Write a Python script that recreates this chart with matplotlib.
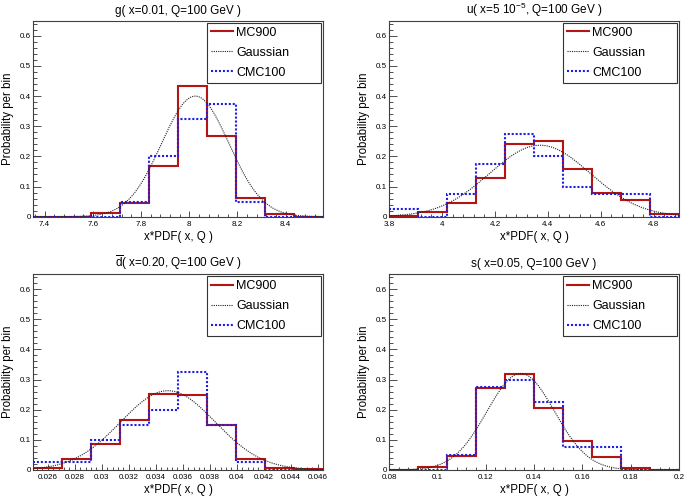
import numpy as np
import matplotlib
matplotlib.use('Agg')
import matplotlib.pyplot as plt
from matplotlib.ticker import MultipleLocator, AutoMinorLocator, FormatStrFormatter

plt.rcParams['font.family'] = ['Liberation Sans', 'DejaVu Sans']
plt.rcParams['mathtext.fontset'] = 'custom'
plt.rcParams['mathtext.rm'] = 'Liberation Sans'
plt.rcParams['mathtext.it'] = 'Liberation Sans:italic'

TITLES = [
    'g( x=0.01, Q=100 GeV )',
    'u( x=5 10$^{-5}$, Q=100 GeV )',
    r'$\overline{\mathrm{d}}$( x=0.20, Q=100 GeV )',
    's( x=0.05, Q=100 GeV )',
]
X_LABEL = 'x*PDF( x, Q )'
Y_LABEL = 'Probability per bin'
SERIES_NAMES = ['MC900', 'Gaussian', 'CMC100']

# histogram range of each panel, 10 bins each
X_RANGES = [(7.352, 8.555), (3.80, 4.895), (0.0249, 0.0464), (0.08, 0.20)]
MAJOR_STEPS = [0.2, 0.2, 0.002, 0.02]

MC900 = [
    [0, 0, 0.011, 0.044, 0.168, 0.434, 0.266, 0.062, 0.008, 0],
    [0.003, 0.015, 0.045, 0.13, 0.24, 0.252, 0.157, 0.08, 0.057, 0.008],
    [0.005, 0.037, 0.087, 0.167, 0.252, 0.25, 0.15, 0.035, 0.005, 0.002],
    [0, 0.01, 0.048, 0.272, 0.318, 0.207, 0.097, 0.042, 0.007, 0],
]
CMC100 = [
    [0, 0, 0, 0.05, 0.2, 0.325, 0.375, 0.05, 0, 0],
    [0.025, 0, 0.075, 0.175, 0.275, 0.2, 0.1, 0.075, 0.075, 0],
    [0.025, 0.025, 0.1, 0.15, 0.2, 0.325, 0.15, 0.025, 0, 0],
    [0, 0, 0.05, 0.275, 0.3, 0.225, 0.075, 0.075, 0, 0],
]
# gaussian fit: peak height, mean, sigma
GAUSS_PEAK = [0.40, 0.237, 0.263, 0.32]
GAUSS_MEAN = [8.025, 4.37, 0.0349, 0.1345]
GAUSS_SIGMA = [0.14, 0.19, 0.0035, 0.014]

RED = '#b41414'
BLUE = '#1e1ee6'


def draw_panel(ax, i):
    lo, hi = X_RANGES[i]
    edges = np.linspace(lo, hi, len(MC900[i]) + 1)
    ax.stairs(MC900[i], edges, color=RED, lw=1.5, label=SERIES_NAMES[0], zorder=2)
    xs = np.linspace(lo, hi, 300)
    ys = GAUSS_PEAK[i] * np.exp(-0.5 * ((xs - GAUSS_MEAN[i]) / GAUSS_SIGMA[i]) ** 2)
    ax.plot(xs, ys, color='#222222', lw=0.8, ls=(0, (1, 1)), label=SERIES_NAMES[1], zorder=4)
    ax.stairs(CMC100[i], edges, color=BLUE, lw=1.5, ls=(0, (1.0, 0.9)),
              label=SERIES_NAMES[2], zorder=3)

    ax.set_xlim(lo, hi)
    ax.set_ylim(0, 0.65)
    ax.set_title(TITLES[i], fontsize=8.5, pad=5)
    ax.set_xlabel(X_LABEL, fontsize=8.3, labelpad=2)
    ax.set_ylabel(Y_LABEL, fontsize=8.3, labelpad=4)

    ax.xaxis.set_major_locator(MultipleLocator(MAJOR_STEPS[i]))
    ax.xaxis.set_minor_locator(AutoMinorLocator(5))
    ax.yaxis.set_major_locator(MultipleLocator(0.1))
    ax.yaxis.set_minor_locator(AutoMinorLocator(5))
    ax.xaxis.set_major_formatter(FormatStrFormatter('%g'))
    ax.yaxis.set_major_formatter(FormatStrFormatter('%g'))
    ax.tick_params(axis='both', which='both', direction='in', labelsize=5.8,
                   color='#333333', width=0.6)
    ax.tick_params(axis='x', which='major', length=4.5, pad=3)
    ax.tick_params(axis='x', which='minor', length=2.2)
    ax.tick_params(axis='y', which='major', length=5.5, pad=1.5)
    ax.tick_params(axis='y', which='minor', length=2.8)
    for sp in ax.spines.values():
        sp.set_color('#404040')
        sp.set_linewidth(0.8)

    leg = ax.legend(loc='upper left', bbox_to_anchor=(0.60, 0.0, 0.393, 0.988),
                    mode='expand', borderaxespad=0, fontsize=9, handlelength=1.75,
                    handletextpad=0.3, labelspacing=0.64, borderpad=0.3,
                    fancybox=False, framealpha=1)
    leg.get_frame().set_edgecolor('#333333')
    leg.get_frame().set_linewidth(0.8)


def main():
    fig = plt.figure(figsize=(6.85, 5.0), dpi=100)
    lefts = [0.0482, 0.5679, 0.0482, 0.5679]
    bottoms = [0.5666, 0.5666, 0.06, 0.06]
    for i in range(4):
        ax = fig.add_axes([lefts[i], bottoms[i], 0.4234, 0.392])
        draw_panel(ax, i)
    fig.savefig('out.png', dpi=100)


if __name__ == '__main__':
    main()
